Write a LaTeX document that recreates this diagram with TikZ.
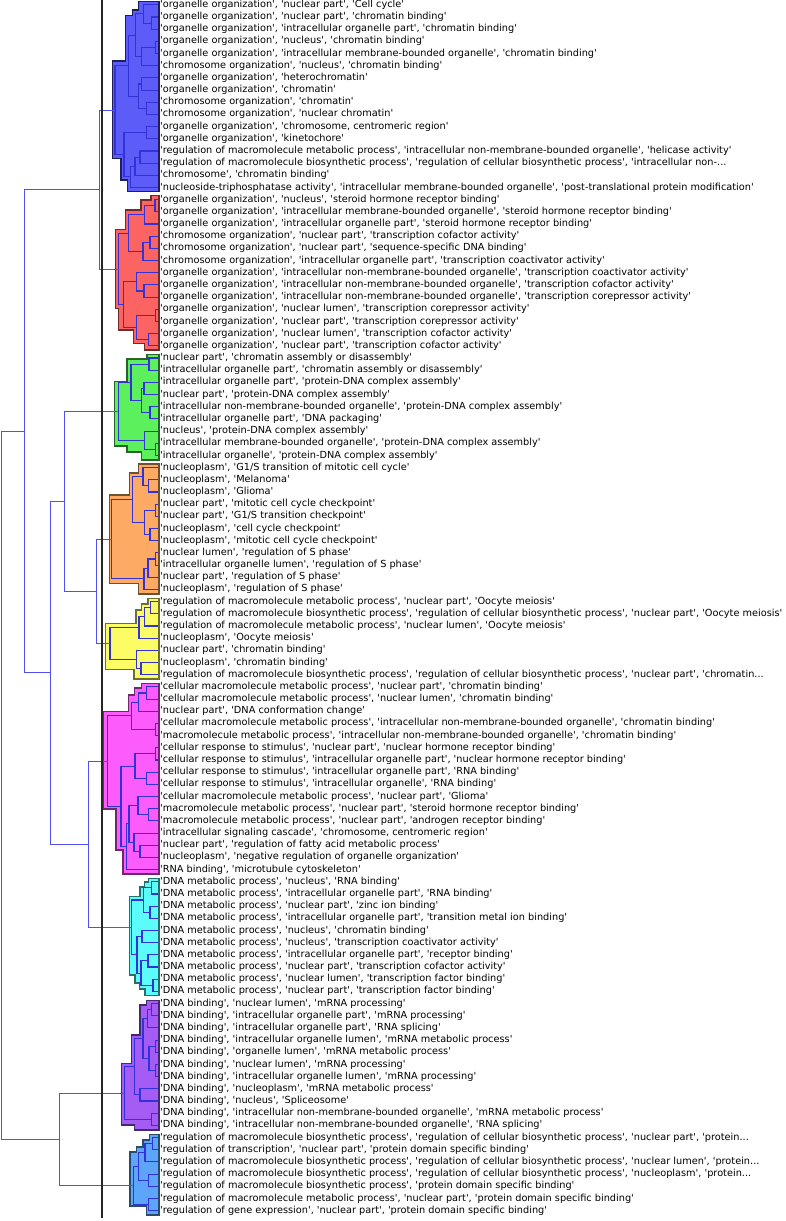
\documentclass[tikz,border=0pt]{standalone}
\usepackage{fontspec}
\setmainfont{DejaVu Sans}[Ligatures=TeXOff]
\usetikzlibrary{calc}
\definecolor{inC}{RGB}{50,50,215}
\definecolor{outC}{RGB}{80,80,240}
\definecolor{fB}{RGB}{92,92,248}\definecolor{dB}{RGB}{30,30,90}
\definecolor{fR}{RGB}{252,100,100}\definecolor{dR}{RGB}{110,45,45}
\definecolor{fG}{RGB}{92,240,92}\definecolor{dG}{RGB}{40,100,40}
\definecolor{fO}{RGB}{252,170,100}\definecolor{dO}{RGB}{110,80,50}
\definecolor{fY}{RGB}{252,252,100}\definecolor{dY}{RGB}{110,110,45}
\definecolor{fM}{RGB}{252,92,252}\definecolor{dM}{RGB}{110,40,110}
\definecolor{fC}{RGB}{92,252,252}\definecolor{dC}{RGB}{40,110,110}
\definecolor{fP}{RGB}{165,92,245}\definecolor{dP}{RGB}{70,40,110}
\definecolor{fL}{RGB}{92,165,250}\definecolor{dL}{RGB}{40,75,110}
\newcommand\dlink[4]{\coordinate (tmp) at ($(#3)!0.5!(#4)$);\coordinate (#1) at (#2,0 |- tmp);\draw[inl] (#3) -- (#3 -| #1) -- (#4 -| #1) -- (#4);}
\newcommand\olink[4]{\coordinate (tmp) at ($(#3)!0.5!(#4)$);\coordinate (#1) at (#2,0 |- tmp);\draw[outl] (#3) -- (#3 -| #1) -- (#4 -| #1) -- (#4);}
\newcommand\lab[2]{\node[labl] (t#1) at ([xshift=1.7pt]L#1) {#2};}
\begin{document}
\begin{tikzpicture}[x=1pt,y=-1pt,
  labl/.style={anchor=west, inner sep=0pt, text height=7.3pt, text depth=2.2pt, font=\fontsize{9.75}{11.5}\selectfont},
  inl/.style={draw=inC, line width=1.1pt},
  outl/.style={draw=outC, line width=0.9pt},
  clus/.style={line width=1.2pt, line join=miter}]
\useasboundingbox (0,0) rectangle (785,1221);
\foreach \i in {0,...,99} \coordinate (L\i) at (158.3,{4.8+12.18*\i});
% cluster shapes
\filldraw[clus, fill=fB, draw=dB] (159,1.7) -- (138.3,1.7) -- (138.3,10) -- (132.3,10) -- (132.3,15.5) -- (125.7,15.5) -- (125.7,61) -- (112.3,61) -- (112.3,158.3) -- (121,158.3) -- (121,180) -- (127.3,180) -- (127.3,191.7) -- (159,191.7) -- cycle;
\filldraw[clus, fill=fR, draw=dR] (159,195.7) -- (151,195.7) -- (151,200) -- (141,200) -- (141,210) -- (125.5,210) -- (125.5,229.3) -- (115.7,229.3) -- (115.7,308.3) -- (118.7,308.3) -- (118.7,330) -- (133.3,330) -- (133.3,343.3) -- (144.3,343.3) -- (144.3,350) -- (159,350) -- cycle;
\filldraw[clus, fill=fG, draw=dG] (159,354.3) -- (147,354.3) -- (147,359) -- (127,359) -- (127,381.7) -- (114.3,381.7) -- (114.3,446) -- (127,446) -- (127,452) -- (141.7,452) -- (141.7,460) -- (159,460) -- cycle;
\filldraw[clus, fill=fO, draw=dO] (159,464) -- (138.3,464) -- (138.3,473) -- (129.5,473) -- (129.5,495) -- (109.3,495) -- (109.3,583.3) -- (138.8,583.3) -- (138.8,594) -- (159,594) -- cycle;
\filldraw[clus, fill=fY, draw=dY] (159,598.3) -- (148,598.3) -- (148,604) -- (141.5,604) -- (141.5,610) -- (136,610) -- (136,623.3) -- (105.5,623.3) -- (105.5,669.5) -- (134,669.5) -- (134,679) -- (159,679) -- cycle;
\filldraw[clus, fill=fM, draw=dM] (159,683.3) -- (141.7,683.3) -- (141.7,688) -- (134.3,688) -- (134.3,695) -- (128.3,695) -- (128.3,711.7) -- (103.3,711.7) -- (103.3,809) -- (116,809) -- (116,850) -- (123,850) -- (123,874) -- (159,874) -- cycle;
\filldraw[clus, fill=fC, draw=dC] (159,878.7) -- (148.5,878.7) -- (148.5,882) -- (144.3,882) -- (144.3,887) -- (140,887) -- (140,896.7) -- (129.3,896.7) -- (129.3,975) -- (135,975) -- (135,983) -- (139.3,983) -- (139.3,989) -- (145,989) -- (145,995.7) -- (159,995.7) -- cycle;
\filldraw[clus, fill=fP, draw=dP] (159,1000.7) -- (146.7,1000.7) -- (146.7,1005) -- (140,1005) -- (140,1035) -- (131.7,1035) -- (131.7,1063.3) -- (121.7,1063.3) -- (121.7,1125) -- (134.3,1125) -- (134.3,1130) -- (159,1130) -- cycle;
\filldraw[clus, fill=fL, draw=dL] (159,1134.5) -- (149.5,1134.5) -- (149.5,1140) -- (143,1140) -- (143,1147) -- (136.5,1147) -- (136.5,1152) -- (130,1152) -- (130,1206) -- (146.7,1206) -- (146.7,1215) -- (159,1215) -- cycle;
% blue
\dlink{b12}{151.7}{L1}{L2}
\dlink{b02}{143.3}{L0}{b12}
\dlink{b34}{155.5}{L3}{L4}
\dlink{b35}{141.7}{b34}{L5}
\dlink{b05}{135.5}{b02}{b35}
\dlink{b67}{141.7}{L6}{L7}
\dlink{b89}{146.7}{L8}{L9}
\dlink{b69}{138.3}{b67}{b89}
\dlink{b09}{128.3}{b05}{b69}
\dlink{b1011}{146.7}{L10}{L11}
\dlink{b1213}{140}{L12}{L13}
\dlink{b1214}{135}{b1213}{L14}
\dlink{b1215}{130.7}{b1214}{L15}
\dlink{b1015}{124}{b1011}{b1215}
\dlink{broot}{115}{b09}{b1015}
% red
\dlink{r1617}{155}{L16}{L17}
\dlink{r1618}{144.3}{r1617}{L18}
\dlink{r1920}{150}{L19}{L20}
\dlink{r1921}{143}{r1920}{L21}
\dlink{r1621}{128.3}{r1618}{r1921}
\dlink{r2324}{144}{L23}{L24}
\dlink{r2224}{136.7}{L22}{r2324}
\dlink{r2526}{155.7}{L25}{L26}
\dlink{r2728}{148.3}{L27}{L28}
\dlink{r2528}{136.7}{r2526}{r2728}
\dlink{r2228}{123.3}{r2224}{r2528}
\dlink{rroot}{118.5}{r1621}{r2228}
% green
\dlink{g2930}{149}{L29}{L30}
\dlink{g3132}{144}{L31}{L32}
\dlink{g3334}{150}{L33}{L34}
\dlink{g3134}{141.7}{g3132}{g3334}
\dlink{g2934}{131}{g2930}{g3134}
\dlink{g3637}{155.7}{L36}{L37}
\dlink{g3537}{144.3}{L35}{g3637}
\dlink{groot}{118.3}{g2934}{g3537}
% orange
\dlink{o3940}{148.3}{L39}{L40}
\dlink{o3840}{143}{L38}{o3940}
\dlink{o4142}{155.7}{L41}{L42}
\dlink{o4344}{150}{L43}{L44}
\dlink{o4144}{144.3}{o4142}{o4344}
\dlink{o3844}{132.5}{o3840}{o4144}
\dlink{o4546}{155.7}{L45}{L46}
\dlink{o4547}{148}{o4546}{L47}
\dlink{o4548}{144}{o4547}{L48}
\dlink{oroot}{111.7}{o3844}{o4548}
% yellow
\dlink{y4950}{150.5}{L49}{L50}
\dlink{y4951}{144.5}{y4950}{L51}
\dlink{y4952}{139}{y4951}{L52}
\dlink{y5455}{141}{L54}{L55}
\dlink{y5355}{136.7}{L53}{y5455}
\dlink{yroot}{110}{y4952}{y5355}
% magenta
\dlink{m5657}{146.7}{L56}{L57}
\dlink{m5658}{138.3}{m5657}{L58}
\dlink{m5960}{155.7}{L59}{L60}
\dlink{m5660}{131.7}{m5658}{m5960}
\dlink{m6162}{155.7}{L61}{L62}
\dlink{m6364}{146.7}{L63}{L64}
\dlink{m6164}{135}{m6162}{m6364}
\dlink{m6667}{148.3}{L66}{L67}
\dlink{m6567}{138}{L65}{m6667}
\dlink{m6970}{140}{L69}{L70}
\dlink{m6870}{134}{L68}{m6970}
\dlink{m6570}{129}{m6567}{m6870}
\dlink{m6571}{126.5}{m6570}{L71}
\dlink{m6171}{121}{m6164}{m6571}
\dlink{mroot}{107.7}{m5660}{m6171}
% cyan
\dlink{c7273}{151.5}{L72}{L73}
\dlink{c7475}{150}{L74}{L75}
\dlink{c7275}{143.3}{c7273}{c7475}
\dlink{c7677}{142}{L76}{L77}
\dlink{c7879}{148}{L78}{L79}
\dlink{c8081}{153}{L80}{L81}
\dlink{c7881}{141}{c7879}{c8081}
\dlink{c7681}{137}{c7677}{c7881}
\dlink{croot}{131.7}{c7275}{c7681}
% purple
\dlink{p8283}{151.7}{L82}{L83}
\dlink{p8284}{147.5}{p8283}{L84}
\dlink{p8586}{155.7}{L85}{L86}
\dlink{p8788}{155.7}{L87}{L88}
\dlink{p8588}{149}{p8586}{p8788}
\dlink{p8288}{143}{p8284}{p8588}
\dlink{p8990}{140}{L89}{L90}
\dlink{p8290}{134.3}{p8288}{p8990}
\dlink{p9192}{151.7}{L91}{L92}
\dlink{proot}{124.3}{p8290}{p9192}
% light blue
\dlink{l9394}{152.3}{L93}{L94}
\dlink{l9395}{145}{l9394}{L95}
\dlink{l9697}{148.3}{L96}{L97}
\dlink{l9397}{138.3}{l9395}{l9697}
\dlink{l9899}{148.3}{L98}{L99}
\dlink{lroot}{133.3}{l9397}{l9899}
% outer tree
\olink{Q1}{99.5}{broot}{rroot}
\olink{Q5}{96}{oroot}{yroot}
\olink{Q4}{64}{groot}{Q5}
\olink{Q6}{88}{mroot}{croot}
\olink{Q3}{50}{Q4}{Q6}
\olink{Q2}{24}{Q1}{Q3}
\olink{Q8}{59}{proot}{lroot}
\olink{Q0}{1}{Q2}{Q8}
% black axis line
\coordinate (axT) at (101.7,0);
\coordinate (axB) at (101.7,1218);
\draw[line width=1.9pt, black!85] (axT) -- (axB);
% labels
\lab{0}{'organelle organization', 'nuclear part', 'Cell cycle'}
\lab{1}{'organelle organization', 'nuclear part', 'chromatin binding'}
\lab{2}{'organelle organization', 'intracellular organelle part', 'chromatin binding'}
\lab{3}{'organelle organization', 'nucleus', 'chromatin binding'}
\lab{4}{'organelle organization', 'intracellular membrane-bounded organelle', 'chromatin binding'}
\lab{5}{'chromosome organization', 'nucleus', 'chromatin binding'}
\lab{6}{'organelle organization', 'heterochromatin'}
\lab{7}{'organelle organization', 'chromatin'}
\lab{8}{'chromosome organization', 'chromatin'}
\lab{9}{'chromosome organization', 'nuclear chromatin'}
\lab{10}{'organelle organization', 'chromosome, centromeric region'}
\lab{11}{'organelle organization', 'kinetochore'}
\lab{12}{'regulation of macromolecule metabolic process', 'intracellular non-membrane-bounded organelle', 'helicase activity'}
\lab{13}{'regulation of macromolecule biosynthetic process', 'regulation of cellular biosynthetic process', 'intracellular non-...}
\lab{14}{'chromosome', 'chromatin binding'}
\lab{15}{'nucleoside-triphosphatase activity', 'intracellular membrane-bounded organelle', 'post-translational protein modification'}
\lab{16}{'organelle organization', 'nucleus', 'steroid hormone receptor binding'}
\lab{17}{'organelle organization', 'intracellular membrane-bounded organelle', 'steroid hormone receptor binding'}
\lab{18}{'organelle organization', 'intracellular organelle part', 'steroid hormone receptor binding'}
\lab{19}{'chromosome organization', 'nuclear part', 'transcription cofactor activity'}
\lab{20}{'chromosome organization', 'nuclear part', 'sequence-specific DNA binding'}
\lab{21}{'chromosome organization', 'intracellular organelle part', 'transcription coactivator activity'}
\lab{22}{'organelle organization', 'intracellular non-membrane-bounded organelle', 'transcription coactivator activity'}
\lab{23}{'organelle organization', 'intracellular non-membrane-bounded organelle', 'transcription cofactor activity'}
\lab{24}{'organelle organization', 'intracellular non-membrane-bounded organelle', 'transcription corepressor activity'}
\lab{25}{'organelle organization', 'nuclear lumen', 'transcription corepressor activity'}
\lab{26}{'organelle organization', 'nuclear part', 'transcription corepressor activity'}
\lab{27}{'organelle organization', 'nuclear lumen', 'transcription cofactor activity'}
\lab{28}{'organelle organization', 'nuclear part', 'transcription cofactor activity'}
\lab{29}{'nuclear part', 'chromatin assembly or disassembly'}
\lab{30}{'intracellular organelle part', 'chromatin assembly or disassembly'}
\lab{31}{'intracellular organelle part', 'protein-DNA complex assembly'}
\lab{32}{'nuclear part', 'protein-DNA complex assembly'}
\lab{33}{'intracellular non-membrane-bounded organelle', 'protein-DNA complex assembly'}
\lab{34}{'intracellular organelle part', 'DNA packaging'}
\lab{35}{'nucleus', 'protein-DNA complex assembly'}
\lab{36}{'intracellular membrane-bounded organelle', 'protein-DNA complex assembly'}
\lab{37}{'intracellular organelle', 'protein-DNA complex assembly'}
\lab{38}{'nucleoplasm', 'G1/S transition of mitotic cell cycle'}
\lab{39}{'nucleoplasm', 'Melanoma'}
\lab{40}{'nucleoplasm', 'Glioma'}
\lab{41}{'nuclear part', 'mitotic cell cycle checkpoint'}
\lab{42}{'nuclear part', 'G1/S transition checkpoint'}
\lab{43}{'nucleoplasm', 'cell cycle checkpoint'}
\lab{44}{'nucleoplasm', 'mitotic cell cycle checkpoint'}
\lab{45}{'nuclear lumen', 'regulation of S phase'}
\lab{46}{'intracellular organelle lumen', 'regulation of S phase'}
\lab{47}{'nuclear part', 'regulation of S phase'}
\lab{48}{'nucleoplasm', 'regulation of S phase'}
\lab{49}{'regulation of macromolecule metabolic process', 'nuclear part', 'Oocyte meiosis'}
\lab{50}{'regulation of macromolecule biosynthetic process', 'regulation of cellular biosynthetic process', 'nuclear part', 'Oocyte meiosis'}
\lab{51}{'regulation of macromolecule metabolic process', 'nuclear lumen', 'Oocyte meiosis'}
\lab{52}{'nucleoplasm', 'Oocyte meiosis'}
\lab{53}{'nuclear part', 'chromatin binding'}
\lab{54}{'nucleoplasm', 'chromatin binding'}
\lab{55}{'regulation of macromolecule biosynthetic process', 'regulation of cellular biosynthetic process', 'nuclear part', 'chromatin...}
\lab{56}{'cellular macromolecule metabolic process', 'nuclear part', 'chromatin binding'}
\lab{57}{'cellular macromolecule metabolic process', 'nuclear lumen', 'chromatin binding'}
\lab{58}{'nuclear part', 'DNA conformation change'}
\lab{59}{'cellular macromolecule metabolic process', 'intracellular non-membrane-bounded organelle', 'chromatin binding'}
\lab{60}{'macromolecule metabolic process', 'intracellular non-membrane-bounded organelle', 'chromatin binding'}
\lab{61}{'cellular response to stimulus', 'nuclear part', 'nuclear hormone receptor binding'}
\lab{62}{'cellular response to stimulus', 'intracellular organelle part', 'nuclear hormone receptor binding'}
\lab{63}{'cellular response to stimulus', 'intracellular organelle part', 'RNA binding'}
\lab{64}{'cellular response to stimulus', 'intracellular organelle', 'RNA binding'}
\lab{65}{'cellular macromolecule metabolic process', 'nuclear part', 'Glioma'}
\lab{66}{'macromolecule metabolic process', 'nuclear part', 'steroid hormone receptor binding'}
\lab{67}{'macromolecule metabolic process', 'nuclear part', 'androgen receptor binding'}
\lab{68}{'intracellular signaling cascade', 'chromosome, centromeric region'}
\lab{69}{'nuclear part', 'regulation of fatty acid metabolic process'}
\lab{70}{'nucleoplasm', 'negative regulation of organelle organization'}
\lab{71}{'RNA binding', 'microtubule cytoskeleton'}
\lab{72}{'DNA metabolic process', 'nucleus', 'RNA binding'}
\lab{73}{'DNA metabolic process', 'intracellular organelle part', 'RNA binding'}
\lab{74}{'DNA metabolic process', 'nuclear part', 'zinc ion binding'}
\lab{75}{'DNA metabolic process', 'intracellular organelle part', 'transition metal ion binding'}
\lab{76}{'DNA metabolic process', 'nucleus', 'chromatin binding'}
\lab{77}{'DNA metabolic process', 'nucleus', 'transcription coactivator activity'}
\lab{78}{'DNA metabolic process', 'intracellular organelle part', 'receptor binding'}
\lab{79}{'DNA metabolic process', 'nuclear part', 'transcription cofactor activity'}
\lab{80}{'DNA metabolic process', 'nuclear lumen', 'transcription factor binding'}
\lab{81}{'DNA metabolic process', 'nuclear part', 'transcription factor binding'}
\lab{82}{'DNA binding', 'nuclear lumen', 'mRNA processing'}
\lab{83}{'DNA binding', 'intracellular organelle part', 'mRNA processing'}
\lab{84}{'DNA binding', 'intracellular organelle part', 'RNA splicing'}
\lab{85}{'DNA binding', 'intracellular organelle lumen', 'mRNA metabolic process'}
\lab{86}{'DNA binding', 'organelle lumen', 'mRNA metabolic process'}
\lab{87}{'DNA binding', 'nuclear lumen', 'mRNA processing'}
\lab{88}{'DNA binding', 'intracellular organelle lumen', 'mRNA processing'}
\lab{89}{'DNA binding', 'nucleoplasm', 'mRNA metabolic process'}
\lab{90}{'DNA binding', 'nucleus', 'Spliceosome'}
\lab{91}{'DNA binding', 'intracellular non-membrane-bounded organelle', 'mRNA metabolic process'}
\lab{92}{'DNA binding', 'intracellular non-membrane-bounded organelle', 'RNA splicing'}
\lab{93}{'regulation of macromolecule biosynthetic process', 'regulation of cellular biosynthetic process', 'nuclear part', 'protein...}
\lab{94}{'regulation of transcription', 'nuclear part', 'protein domain specific binding'}
\lab{95}{'regulation of macromolecule biosynthetic process', 'regulation of cellular biosynthetic process', 'nuclear lumen', 'protein...}
\lab{96}{'regulation of macromolecule biosynthetic process', 'regulation of cellular biosynthetic process', 'nucleoplasm', 'protein...}
\lab{97}{'regulation of macromolecule biosynthetic process', 'protein domain specific binding'}
\lab{98}{'regulation of macromolecule metabolic process', 'nuclear part', 'protein domain specific binding'}
\lab{99}{'regulation of gene expression', 'nuclear part', 'protein domain specific binding'}
\end{tikzpicture}
\end{document}
